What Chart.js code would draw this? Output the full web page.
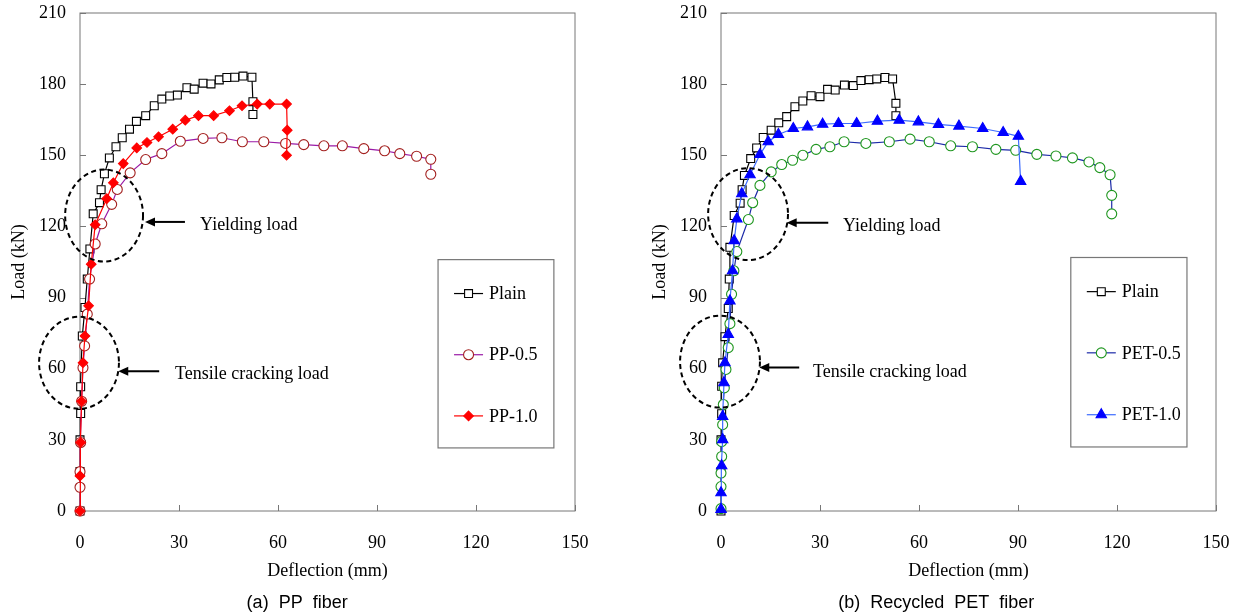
<!DOCTYPE html>
<html>
<head>
<meta charset="utf-8">
<script src="https://cdn.jsdelivr.net/npm/chart.js@4.4.1/dist/chart.umd.min.js"></script>
<style>
  html, body { margin: 0; padding: 0; background: #fff; }
  #wrap { position: relative; width: 1242px; height: 615px; overflow: hidden; }
  canvas { position: absolute; top: 0; }
</style>
</head>
<body>
<div id="wrap">
  <canvas id="ppChart" width="600" height="615" style="left:0px"></canvas>
  <canvas id="petChart" width="600" height="615" style="left:641px"></canvas>
</div>
<script>
// axis ticks
const xTicks = [0, 30, 60, 90, 120, 150];
const yTicks = [0, 30, 60, 90, 120, 150, 180, 210];

// (a) PP fiber
const ppPlainX = [0, 0, 0, 0.2, 0.2, 0.7, 1.5, 2.2, 3.0, 4.0, 5.9, 6.4, 7.4, 8.9, 10.9, 12.8, 15.0, 17.1, 19.9, 22.5, 24.8, 27.2, 29.5, 32.4, 34.6, 37.3, 39.7, 42.2, 44.5, 46.9, 49.4, 52.1, 52.4, 52.4];
const ppPlainY = [0, 16.6, 30, 41.1, 52.4, 73.8, 85.8, 97.8, 110.5, 125.3, 130, 135.5, 142.2, 148.9, 153.6, 157.4, 161.0, 164.3, 166.7, 170.9, 173.7, 175.0, 175.4, 178.5, 177.9, 180.4, 180.1, 181.8, 182.8, 182.9, 183.4, 182.9, 172.6, 167.2];
const pp05X = [0, 0, 0, 0.2, 0.5, 0.9, 1.4, 2.2, 2.9, 4.6, 6.6, 9.6, 11.3, 15.2, 19.9, 24.8, 30.4, 37.3, 43.0, 49.2, 55.7, 62.3, 67.8, 73.9, 79.5, 86.0, 92.3, 96.9, 102.0, 106.3, 106.3];
const pp05Y = [0, 10, 16.6, 28.9, 46.3, 60.4, 69.6, 83.0, 97.8, 112.6, 121.1, 129.3, 135.6, 142.6, 148.2, 150.7, 155.9, 157.1, 157.4, 155.7, 155.7, 155.0, 154.5, 154.0, 154.0, 152.8, 151.9, 150.7, 149.6, 148.3, 142.0];
const pp10X = [0, 0, 0.2, 0.5, 0.9, 1.5, 2.6, 3.4, 4.6, 8.1, 10.1, 13.1, 17.2, 20.3, 23.8, 28.1, 31.9, 35.9, 40.5, 45.3, 49.1, 53.7, 57.5, 62.6, 62.8, 62.6];
const pp10Y = [0, 14.8, 28.9, 46.3, 62.5, 73.8, 86.5, 104.1, 120.7, 131.7, 138.4, 146.5, 153.1, 155.4, 157.8, 161.0, 164.8, 166.7, 166.7, 168.8, 170.9, 171.6, 171.6, 171.6, 160.6, 150.0];

// (b) Recycled PET fiber
const petPlainX = [0, 0, 0, 0.2, 0.2, 0.5, 1.2, 2.2, 2.5, 2.7, 4.0, 5.8, 6.4, 7.1, 9.0, 10.8, 12.8, 15.2, 17.5, 19.9, 22.4, 24.8, 27.3, 30.0, 32.3, 34.6, 37.4, 40.1, 42.4, 44.9, 47.2, 49.7, 52.0, 53.0, 53.0];
const petPlainY = [0, 16.6, 30, 41, 52.6, 62.5, 73.5, 85.4, 97.8, 111.2, 124.6, 129.8, 135.5, 141.5, 148.6, 153.1, 157.5, 160.6, 163.7, 166.3, 170.5, 172.9, 175.1, 174.7, 177.8, 177.5, 179.6, 179.4, 181.5, 181.9, 182.2, 182.8, 182.2, 171.9, 166.7];
const pet05X = [0, 0, 0, 0.2, 0.2, 0.5, 0.7, 1.0, 1.5, 2.2, 2.7, 3.2, 3.9, 4.8, 8.3, 9.6, 11.8, 15.2, 18.4, 21.7, 24.8, 28.8, 33.0, 37.3, 43.9, 51.0, 57.3, 63.1, 69.6, 76.2, 83.3, 89.3, 95.7, 101.5, 106.5, 111.5, 114.8, 117.9, 118.4, 118.4];
const pet05Y = [1, 10.3, 16.0, 23.0, 29.3, 36.4, 44.9, 51.9, 59.7, 68.9, 79.0, 91.4, 101.3, 109.4, 122.9, 130.0, 137.3, 143.0, 146.1, 147.9, 150.0, 152.5, 153.6, 155.7, 155.0, 155.7, 156.8, 155.7, 154.0, 153.6, 152.5, 152.1, 150.4, 149.7, 148.9, 147.2, 144.8, 141.8, 133.1, 125.3];
const pet10X = [0, 0, 0.2, 0.5, 0.5, 0.9, 1.2, 2.2, 2.7, 3.5, 4.0, 4.8, 6.3, 8.8, 11.8, 14.3, 17.4, 21.9, 26.2, 30.8, 35.6, 41.1, 47.4, 54.0, 59.8, 65.9, 72.1, 79.3, 85.5, 90.1, 90.8];
const pet10Y = [0.7, 7.7, 19.1, 30.1, 39.9, 54.1, 62.5, 74.5, 88.6, 101.3, 114.0, 123.2, 133.8, 141.8, 150.3, 155.7, 158.8, 161.3, 162.0, 163.1, 163.4, 163.4, 164.4, 164.8, 164.1, 163.0, 162.3, 161.3, 159.6, 158.0, 139.0];

const SERIF = "'Liberation Serif', 'Times New Roman', serif";
const SANS = "'Liberation Sans', Arial, sans-serif";

function pts(xs, ys) {
  return xs.map((x, i) => ({ x: x, y: ys[i] }));
}

function series(label, xs, ys, style) {
  return Object.assign({
    label: label,
    data: pts(xs, ys),
    showLine: true,
    borderWidth: 1.2,
    tension: 0,
    clip: false,
    pointBorderWidth: 1.1,
    pointHoverRadius: 0
  }, style);
}

function drawMarker(ctx, style, x, y, r, fill, stroke, bw) {
  ctx.beginPath();
  if (style === 'rect') {
    const s = r * Math.SQRT1_2;
    ctx.rect(x - s, y - s, 2 * s, 2 * s);
  } else if (style === 'rectRot') {
    ctx.moveTo(x, y - r); ctx.lineTo(x + r, y); ctx.lineTo(x, y + r); ctx.lineTo(x - r, y); ctx.closePath();
  } else if (style === 'triangle') {
    ctx.moveTo(x, y - r); ctx.lineTo(x + 0.866 * r, y + 0.5 * r); ctx.lineTo(x - 0.866 * r, y + 0.5 * r); ctx.closePath();
  } else {
    ctx.arc(x, y, r, 0, Math.PI * 2);
  }
  ctx.fillStyle = fill;
  ctx.fill();
  ctx.lineWidth = bw;
  ctx.strokeStyle = stroke;
  ctx.stroke();
}

// frame, inward ticks, annotations, legend box and caption
const decorPlugin = {
  id: 'decor',
  beforeDatasetsDraw(chart) {
    const { ctx, chartArea: a, scales } = chart;
    ctx.save();
    ctx.strokeStyle = '#777';
    ctx.lineWidth = 1;
    ctx.strokeRect(a.left, a.top, a.right - a.left, a.bottom - a.top);
    ctx.beginPath();
    xTicks.forEach(v => {
      const px = Math.round(scales.x.getPixelForValue(v)) + 0.5;
      ctx.moveTo(px, a.bottom); ctx.lineTo(px, a.bottom - 6);
    });
    yTicks.forEach(v => {
      const py = Math.round(scales.y.getPixelForValue(v)) + 0.5;
      ctx.moveTo(a.left, py); ctx.lineTo(a.left + 6, py);
    });
    ctx.stroke();
    ctx.restore();
  },
  afterDatasetsDraw(chart, args, opts) {
    const { ctx, scales } = chart;
    const X = v => scales.x.getPixelForValue(v);
    const Y = v => scales.y.getPixelForValue(v);
    ctx.save();

    // dashed circles
    ctx.strokeStyle = '#000';
    ctx.lineWidth = 2;
    ctx.setLineDash([5, 3.5]);
    (opts.ellipses || []).forEach(e => {
      const cx = X(e.cx), cy = Y(e.cy);
      const rx = X(e.cx + e.rx) - cx, ry = cy - Y(e.cy + e.ry);
      ctx.beginPath();
      ctx.ellipse(cx, cy, rx, ry, 0, 0, Math.PI * 2);
      ctx.stroke();
    });
    ctx.setLineDash([]);

    // arrows
    (opts.arrows || []).forEach(ar => {
      const x1 = X(ar.from), x2 = X(ar.to), y = Y(ar.y);
      ctx.beginPath();
      ctx.moveTo(x1, y); ctx.lineTo(x2 + 8, y);
      ctx.lineWidth = 2;
      ctx.stroke();
      ctx.beginPath();
      ctx.moveTo(x2, y); ctx.lineTo(x2 + 10, y - 4.5); ctx.lineTo(x2 + 10, y + 4.5); ctx.closePath();
      ctx.fillStyle = '#000';
      ctx.fill();
    });

    // annotation text
    ctx.fillStyle = '#000';
    ctx.font = '18px ' + SERIF;
    ctx.textAlign = 'left';
    ctx.textBaseline = 'middle';
    (opts.notes || []).forEach(n => ctx.fillText(n.text, X(n.x), Y(n.y)));

    // legend
    const lg = opts.legend;
    if (lg) {
      const l = X(lg.x0), r = X(lg.x1), t = Y(lg.y0), b = Y(lg.y1);
      ctx.fillStyle = '#fff';
      ctx.fillRect(l, t, r - l, b - t);
      ctx.strokeStyle = '#777';
      ctx.lineWidth = 1.2;
      ctx.strokeRect(l, t, r - l, b - t);
      chart.data.datasets.forEach((ds, i) => {
        const y = Y(lg.rows[i]);
        ctx.beginPath();
        ctx.moveTo(l + 16, y); ctx.lineTo(l + 45, y);
        ctx.strokeStyle = ds.borderColor;
        ctx.lineWidth = 1.2;
        ctx.stroke();
        drawMarker(ctx, ds.pointStyle, l + 30.5, y, ds.pointRadius, ds.pointBackgroundColor, ds.pointBorderColor, 1.1);
        ctx.fillStyle = '#000';
        ctx.font = '18px ' + SERIF;
        ctx.textAlign = 'left';
        ctx.textBaseline = 'middle';
        ctx.fillText(ds.label, l + 51, y + 1);
      });
    }

    // caption
    if (opts.caption) {
      ctx.fillStyle = '#000';
      ctx.font = '18px ' + SANS;
      ctx.textAlign = 'center';
      ctx.textBaseline = 'middle';
      ctx.fillText(opts.caption.text, X(opts.caption.x), 603);
    }
    ctx.restore();
  }
};

function noPad(s) {
  s.paddingTop = 0; s.paddingBottom = 0; s.paddingLeft = 0; s.paddingRight = 0;
}

function makeScales() {
  const tickFont = { family: SERIF, size: 18 };
  return {
    x: {
      type: 'linear', min: 0, max: 150,
      afterFit(s) { s.height = 104; noPad(s); },
      afterBuildTicks(s) { s.ticks = xTicks.map(v => ({ value: v })); },
      ticks: { padding: 21, color: '#000', font: tickFont },
      grid: { display: false, drawTicks: false },
      border: { display: false },
      title: { display: true, text: 'Deflection (mm)', color: '#000', font: tickFont, padding: { top: 4, bottom: 33 } }
    },
    y: {
      type: 'linear', min: 0, max: 210,
      afterFit(s) { s.width = 80; noPad(s); },
      afterBuildTicks(s) { s.ticks = yTicks.map(v => ({ value: v })); },
      ticks: { padding: 14, color: '#000', font: tickFont },
      grid: { display: false, drawTicks: false },
      border: { display: false },
      title: { display: true, text: 'Load (kN)', color: '#000', font: tickFont, padding: { top: 8, bottom: 0 } }
    }
  };
}

function makeChart(id, datasets, decor) {
  return new Chart(document.getElementById(id), {
    type: 'scatter',
    data: { datasets: datasets },
    options: {
      responsive: false,
      animation: false,
      devicePixelRatio: 1,
      layout: { padding: { left: 0, right: 25, top: 13, bottom: 0 } },
      scales: makeScales(),
      plugins: { legend: { display: false }, tooltip: { enabled: false }, decor: decor }
    },
    plugins: [decorPlugin]
  });
}

const plainStyle = { borderColor: '#000', pointStyle: 'rect', pointRadius: 5.6, pointBackgroundColor: '#fff', pointBorderColor: '#000' };

makeChart('ppChart', [
  series('Plain', ppPlainX, ppPlainY, Object.assign({ order: 2 }, plainStyle)),
  series('PP-0.5', pp05X, pp05Y, { order: 1, borderColor: '#9a1aa6', pointStyle: 'circle', pointRadius: 5, pointBackgroundColor: '#fff', pointBorderColor: '#a3201f' }),
  series('PP-1.0', pp10X, pp10Y, { order: 0, borderColor: '#ff0000', pointStyle: 'rectRot', pointRadius: 4.8, pointBackgroundColor: '#ff0000', pointBorderColor: '#ff0000' })
], {
  ellipses: [{ cx: 7.3, cy: 124.6, rx: 11.8, ry: 19.4 }, { cx: -0.3, cy: 62.5, rx: 12.1, ry: 19.4 }],
  arrows: [{ from: 31.8, to: 19.7, y: 121.9 }, { from: 24.0, to: 11.6, y: 58.9 }],
  notes: [{ x: 36.4, y: 120.4, text: 'Yielding load' }, { x: 28.8, y: 57.5, text: 'Tensile cracking load' }],
  legend: { x0: 108.5, x1: 143.6, y0: 106, y1: 26.6, rows: [91.7, 65.9, 40.1] },
  caption: { x: 65.8, text: '(a)  PP  fiber' }
});

makeChart('petChart', [
  series('Plain', petPlainX, petPlainY, Object.assign({ order: 2 }, plainStyle)),
  series('PET-0.5', pet05X, pet05Y, { order: 1, borderColor: '#1c2aa8', pointStyle: 'circle', pointRadius: 5, pointBackgroundColor: '#fff', pointBorderColor: '#1e961e' }),
  series('PET-1.0', pet10X, pet10Y, { order: 0, borderColor: '#3d6cff', pointStyle: 'triangle', pointRadius: 6, pointBackgroundColor: '#0000ff', pointBorderColor: '#0000ff' })
], {
  ellipses: [{ cx: 8.2, cy: 125.2, rx: 12.1, ry: 19.4 }, { cx: -0.3, cy: 63, rx: 12.1, ry: 19.4 }],
  arrows: [{ from: 32.5, to: 19.9, y: 121.5 }, { from: 23.7, to: 11.6, y: 60.5 }],
  notes: [{ x: 37.0, y: 120.0, text: 'Yielding load' }, { x: 27.9, y: 58.7, text: 'Tensile cracking load' }],
  legend: { x0: 106, x1: 141.2, y0: 106.9, y1: 27, rows: [92.5, 66.7, 40.6] },
  caption: { x: 65.2, text: '(b)  Recycled  PET  fiber' }
});
</script>
</body>
</html>
